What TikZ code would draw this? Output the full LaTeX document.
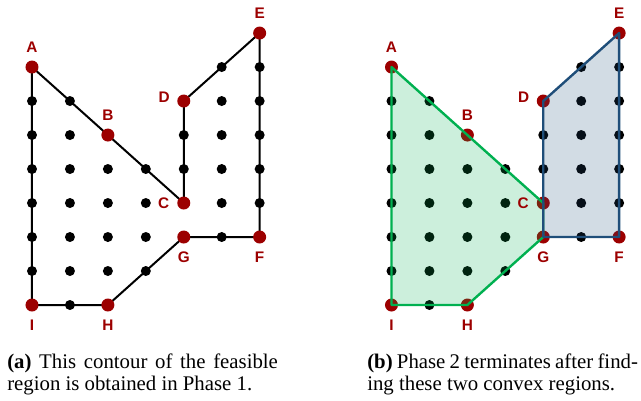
\documentclass[tikz,border=0pt]{standalone}
\usepackage{fontspec}
\setmainfont{Liberation Serif}
\setsansfont{Liberation Sans}
\usepackage{xcolor}
\usetikzlibrary{positioning,calc}

\definecolor{ptred}{HTML}{9C0000}
\definecolor{regiongreen}{HTML}{00B050}
\definecolor{regionblue}{HTML}{1F4E79}

\begin{document}
\begin{tikzpicture}[x=1cm, y=0.896cm,
  dot/.style={circle, fill=black, inner sep=0pt, minimum size=7.5pt},
  vertex/.style={circle, fill=ptred, inner sep=0pt, minimum size=9.75pt},
  lbl/.style={text=ptred, inner sep=0pt, font=\sffamily\bfseries\fontsize{11.5}{13}\selectfont},
  contour/.style={line width=1.5pt, line join=round},
  greenreg/.style={draw=regiongreen, fill=regiongreen, fill opacity=0.2, line width=1.8pt, line join=round},
  bluereg/.style={draw=regionblue, fill=regionblue, fill opacity=0.2, line width=1.8pt, line join=round},
  capbox/.style={anchor=north west, inner sep=0pt, text width=203pt, align=justify,
    font=\rmfamily\fontsize{15.6}{16.5}\selectfont}]
  \useasboundingbox (-0.8434cm,-2.530cm) rectangle (16.051cm,8.039cm);

  % corners of the region, (a) left and (b) right
  \foreach \p/\dx in {a/0, b/9.475}
    \foreach \n/\x/\y in {A/0/7, B/2/5, C/4/3, D/4/6, E/6/8, F/6/2, G/4/2, H/2/0, I/0/0}
      \coordinate (\p\n) at (\x+\dx,\y);

  % lattice points
  \foreach \p/\dx in {a/0, b/9.475}
    \foreach \x/\ys in {0/{1,...,6}, 1/{0,...,6}, 2/{1,...,4}, 3/{1,...,4}, 4/{4,5}, 5/{2,...,7}, 6/{3,...,7}}
      \foreach \y in \ys
        \node[dot] (\p-\x-\y) at (\x+\dx,\y) {};

  % contour found in phase 1
  \draw[contour] (aA) -- (aB) -- (aC) -- (aD) -- (aE) -- (aF) -- (aG) -- (aH) -- (aI) -- cycle;

  \foreach \p in {a,b}
    \foreach \n in {A,B,C,D,E,F,G,H,I}
      \node[vertex] (\p\n-pt) at (\p\n) {};

  % two convex regions of phase 2
  \draw[greenreg] (bA) -- (bC) -- (bG) -- (bH) -- (bI) -- cycle;
  \draw[bluereg] (bD) -- (bE) -- (bF) -- (bG) -- (bC) -- cycle;

  \foreach \p in {a,b}
    \foreach \n/\ang in {A/90, B/90, C/180, D/168, E/90, F/270, G/270, H/270, I/270}
      \path (\p\n) ++(\ang:15pt) node[lbl] (\p\n-lab) {\n};

  \node[capbox] (capa) at (-0.659cm,-1.29cm)
    {\textbf{(a)} This contour of the feasible region is obtained in Phase 1.};
  \node[capbox] (capb) at (8.83cm,-1.29cm)
    {\textbf{(b)} Phase 2 terminates after find-\linebreak ing these two convex regions.};
\end{tikzpicture}
\end{document}
